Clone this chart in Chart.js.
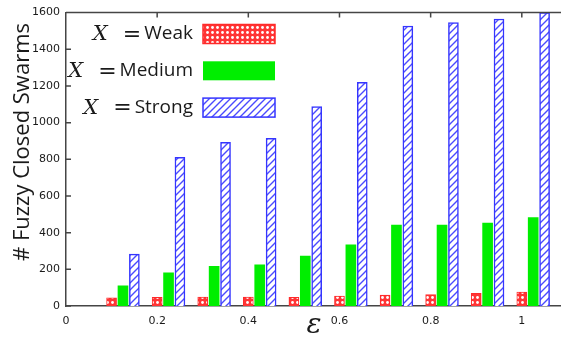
<!DOCTYPE html>
<html>
<head>
<meta charset="utf-8">
<script src="https://cdn.jsdelivr.net/npm/chart.js@4.4.1/dist/chart.umd.min.js"></script>
<style>
  html, body { margin: 0; padding: 0; background: #fff; }
  #wrap { width: 561px; height: 338px; }
</style>
</head>
<body>
<div id="wrap"><canvas id="chart" width="561" height="338"></canvas></div>
<script>
// epsilon values, one group of bars per value
const epsilons = [0.1, 0.2, 0.3, 0.4, 0.5, 0.6, 0.7, 0.8, 0.9, 1.0];
const weakCounts = [45, 47, 49, 49, 47, 54, 60, 62, 69, 76];
const mediumCounts = [110, 181, 216, 225, 272, 334, 441, 441, 452, 482];
const strongCounts = [283, 811, 892, 914, 1088, 1220, 1527, 1546, 1565, 1600];
const seriesNames = ['Weak', 'Medium', 'Strong'];
const xTickValues = [0, 0.2, 0.4, 0.6, 0.8, 1];
const yTickValues = [0, 200, 400, 600, 800, 1000, 1200, 1400, 1600];

const AXIS = '#454545';
const TEXT = '#1a1a1a';

// small repeating tiles for the hatched bars
function makePattern(size, paint) {
  const c = document.createElement('canvas');
  c.width = size; c.height = size;
  paint(c.getContext('2d'), size);
  return c.getContext('2d').createPattern(c, 'repeat');
}

const weakFill = makePattern(5, (g, s) => {
  g.fillStyle = '#ff3535';
  g.fillRect(0, 0, s, s);
  g.fillStyle = '#ffffff';
  g.beginPath();
  g.arc(s / 2, s / 2, 1.4, 0, Math.PI * 2);
  g.fill();
});

const strongFill = makePattern(7, (g, s) => {
  g.fillStyle = '#ffffff';
  g.fillRect(0, 0, s, s);
  g.strokeStyle = '#4a4aff';
  g.lineWidth = 1.4;
  g.beginPath();
  g.moveTo(-1, s + 1); g.lineTo(s + 1, -1);
  g.moveTo(-1, 1); g.lineTo(1, -1);
  g.moveTo(s - 1, s + 1); g.lineTo(s + 1, s - 1);
  g.stroke();
});

// weak sits on epsilon, the other two to its right
const barShift = [0, 0.025, 0.05];
function toPoints(values, k) {
  return values.map((v, i) => ({ x: epsilons[i] + barShift[k], y: v }));
}

// frame on top and inward tick marks like the original plot
const framePlugin = {
  id: 'frame',
  afterDraw(chart) {
    const { ctx, chartArea: a, scales } = chart;
    ctx.save();
    ctx.strokeStyle = AXIS;
    ctx.lineWidth = 1.5;
    ctx.beginPath();
    ctx.moveTo(a.left, a.top);
    ctx.lineTo(a.right, a.top);
    scales.x.ticks.forEach(t => {
      const px = scales.x.getPixelForValue(t.value);
      if (px <= a.left + 1) return;
      ctx.moveTo(px, a.top);
      ctx.lineTo(px, a.top + 5);
    });
    scales.y.ticks.forEach(t => {
      const py = scales.y.getPixelForValue(t.value);
      ctx.moveTo(a.left, py);
      ctx.lineTo(a.left + 5, py);
    });
    ctx.stroke();

    // y title
    ctx.fillStyle = TEXT;
    ctx.font = '22px "Open Sans"';
    ctx.textAlign = 'center';
    ctx.textBaseline = 'middle';
    ctx.translate(23, 142);
    ctx.rotate(-Math.PI / 2);
    ctx.fillText('# Fuzzy Closed Swarms', 0, 0);
    ctx.restore();

    // x title
    ctx.save();
    ctx.fillStyle = TEXT;
    ctx.font = 'italic 28px "DejaVu Serif"';
    ctx.textAlign = 'center';
    ctx.textBaseline = 'middle';
    ctx.fillText('\u03b5', 314, 326);
    ctx.restore();
  }
};

// key drawn inside the plot, text to the left of the swatch
const keyPlugin = {
  id: 'key',
  afterDraw(chart) {
    const ctx = chart.ctx;
    chart.data.datasets.forEach((ds, i) => {
      const cy = 34 + i * 36.8;
      const bx = 203, bw = 72, bh = 19;
      ctx.save();
      ctx.fillStyle = ds.backgroundColor;
      ctx.fillRect(bx, cy - bh / 2, bw, bh);
      if (ds.borderWidth) {
        ctx.strokeStyle = ds.borderColor;
        ctx.lineWidth = 1.5;
        ctx.strokeRect(bx, cy - bh / 2, bw, bh);
      }
      ctx.fillStyle = TEXT;
      ctx.textBaseline = 'middle';
      ctx.textAlign = 'right';
      ctx.font = '19px "Open Sans"';
      ctx.fillText(ds.label, 193, cy);
      let x = 193 - ctx.measureText(ds.label).width - 3;
      ctx.font = '22px "DejaVu Serif"';
      ctx.fillText('=', x, cy + 1);
      x -= ctx.measureText('=').width + 15;
      ctx.font = 'italic 21px "DejaVu Serif"';
      ctx.fillText('X', x, cy + 1);
      ctx.restore();
    });
  }
};

Chart.defaults.font.family = '"DejaVu Sans", sans-serif';
Chart.defaults.font.size = 11;
Chart.defaults.color = TEXT;

new Chart(document.getElementById('chart'), {
  type: 'bar',
  data: {
    datasets: [
      {
        label: seriesNames[0],
        data: toPoints(weakCounts, 0),
        backgroundColor: weakFill,
        borderColor: '#ff2a2a',
        borderWidth: 1
      },
      {
        label: seriesNames[1],
        data: toPoints(mediumCounts, 1),
        backgroundColor: '#00ee00',
        borderWidth: 0
      },
      {
        label: seriesNames[2],
        data: toPoints(strongCounts, 2),
        backgroundColor: strongFill,
        borderColor: '#3535ff',
        borderWidth: 1.5
      }
    ]
  },
  options: {
    responsive: false,
    animation: false,
    layout: { padding: { top: 12, right: 0, left: 0, bottom: 0 } },
    datasets: { bar: { grouped: false, barThickness: 10 } },
    plugins: {
      legend: { display: false },
      tooltip: { enabled: false }
    },
    scales: {
      x: {
        type: 'linear',
        offset: false,
        min: 0,
        max: 1.086,
        grid: { display: false, drawTicks: false },
        border: { display: true, color: AXIS, width: 1.5 },
        ticks: { padding: 9, maxRotation: 0, callback: v => String(v) },
        afterBuildTicks: s => { s.ticks = xTickValues.map(v => ({ value: v })); },
        afterFit: s => { s.height = 32; }
      },
      y: {
        min: 0,
        max: 1600,
        grid: { display: false, drawTicks: false },
        border: { display: true, color: AXIS, width: 1.5 },
        ticks: { padding: 6, callback: v => String(v) },
        afterBuildTicks: s => { s.ticks = yTickValues.map(v => ({ value: v })); },
        afterFit: s => { s.width = 66; }
      }
    }
  },
  plugins: [framePlugin, keyPlugin]
});
</script>
</body>
</html>
